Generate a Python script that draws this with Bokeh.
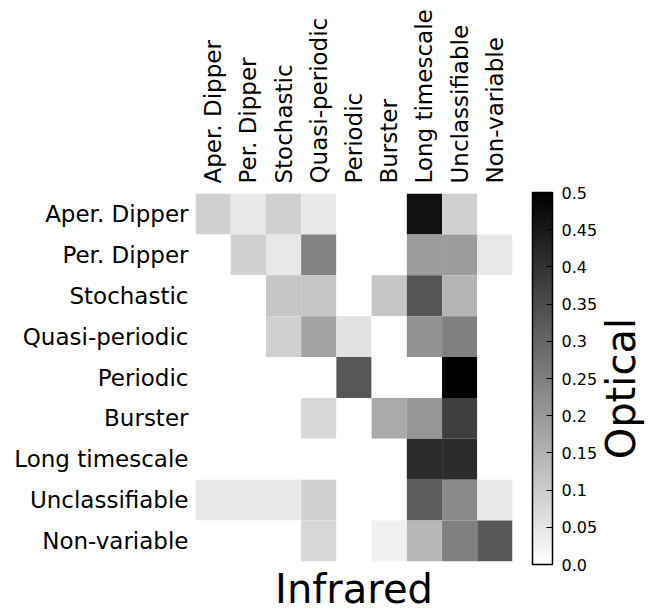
import numpy as np
import pandas as pd
from bokeh.plotting import figure
from bokeh.layouts import row
from bokeh.models import (ColumnDataSource, LinearColorMapper, ColorBar, FixedTicker,
                          CategoricalAxis, CustomJSTickFormatter, Title, Label, Range1d)
from bokeh.transform import transform
from bokeh.palettes import Greys256
from bokeh.embed import file_html
from bokeh.resources import INLINE

# Optical classes (rows)
optical = ["Aper. Dipper", "Per. Dipper", "Stochastic", "Quasi-periodic", "Periodic",
           "Burster", "Long timescale", "Unclassifiable", "Non-variable"]
# Infrared classes (columns)
infrared = ["Aper. Dipper", "Per. Dipper", "Stochastic", "Quasi-periodic", "Periodic",
            "Burster", "Long timescale", "Unclassifiable", "Non-variable"]

# fractions, one row per optical class
row_aper = [0.092, 0.045, 0.092, 0.045, 0.0, 0.0, 0.465, 0.092, 0.0]
row_per = [0.0, 0.092, 0.045, 0.245, 0.0, 0.0, 0.194, 0.194, 0.045]
row_stoch = [0.0, 0.0, 0.112, 0.112, 0.0, 0.112, 0.333, 0.147, 0.0]
row_qp = [0.0, 0.0, 0.092, 0.182, 0.057, 0.0, 0.214, 0.249, 0.0]
row_periodic = [0.0, 0.0, 0.0, 0.0, 0.329, 0.0, 0.0, 0.5, 0.0]
row_burster = [0.0, 0.0, 0.0, 0.080, 0.0, 0.167, 0.206, 0.375, 0.0]
row_long = [0.0, 0.0, 0.0, 0.0, 0.0, 0.0, 0.414, 0.414, 0.0]
row_unclass = [0.045, 0.045, 0.045, 0.092, 0.0, 0.0, 0.320, 0.229, 0.045]
row_nonvar = [0.0, 0.0, 0.0, 0.080, 0.0, 0.029, 0.139, 0.249, 0.327]

cbar_ticks = [0.0, 0.05, 0.1, 0.15, 0.2, 0.25, 0.3, 0.35, 0.4, 0.45, 0.5]
cbar_labels = ["0.0", "0.05", "0.1", "0.15", "0.2", "0.25", "0.3", "0.35", "0.4", "0.45", "0.5"]

matrix = [row_aper, row_per, row_stoch, row_qp, row_periodic, row_burster,
          row_long, row_unclass, row_nonvar]

records = []
for i, o in enumerate(optical):
    for j, ir in enumerate(infrared):
        records.append({"opt": o, "ir": ir, "value": matrix[i][j]})
df = pd.DataFrame(records)
source = ColumnDataSource(df)

FONT = "DejaVu Sans"

p = figure(width=600, height=613, x_range=infrared, y_range=list(reversed(optical)),
           x_axis_location=None, toolbar_location=None, output_backend="svg",
           min_border_left=195, min_border_top=193, min_border_right=88,
           min_border_bottom=48)
p.outline_line_color = None
p.grid.grid_line_color = None
p.background_fill_color = "white"

mapper = LinearColorMapper(palette=list(reversed(Greys256)), low=0.0, high=0.5)
p.rect(x="ir", y="opt", width=1, height=1, source=source,
       fill_color=transform("value", mapper), line_color=None)

# left axis
ya = p.yaxis[0]
ya.axis_line_color = None
ya.major_tick_line_color = None
ya.major_tick_in = 0
ya.major_tick_out = 0
ya.major_label_standoff = 7
ya.major_label_text_font = FONT
ya.major_label_text_font_size = "23px"
ya.major_label_text_color = "black"

# top axis
top = CategoricalAxis()
top.axis_line_color = None
top.major_tick_line_color = None
top.major_tick_in = 0
top.major_tick_out = 0
top.major_label_standoff = 10
top.major_label_orientation = "vertical"
top.major_label_text_font = FONT
top.major_label_text_font_size = "23px"
top.major_label_text_color = "black"
p.add_layout(top, "above")

# "Infrared" title below
p.add_layout(Title(text="Infrared", align="center", text_font=FONT, text_font_size="40px",
                   text_font_style="normal", text_color="black", standoff=4, offset=3),
             "below")

formatter = CustomJSTickFormatter(args=dict(tv=cbar_ticks, tl=cbar_labels), code="""
let best = 0;
for (let k = 0; k < tv.length; k++) {
  if (Math.abs(tv[k] - tick) < Math.abs(tv[best] - tick)) best = k;
}
return tl[best];
""")

cb = ColorBar(color_mapper=mapper, ticker=FixedTicker(ticks=cbar_ticks), formatter=formatter,
              width=20, height=372, location=(20, -3), margin=0, padding=0,
              major_tick_in=6, major_tick_out=0, major_tick_line_color="black",
              bar_line_color="black", bar_line_width=1.5,
              label_standoff=9, major_label_text_font=FONT,
              major_label_text_font_size="16px", major_label_text_color="black",
              background_fill_color=None, border_line_color=None)
p.add_layout(cb, "right")

# narrow companion figure carrying the rotated "Optical" colorbar label
p2 = figure(width=52, height=613, x_range=Range1d(0, 52), y_range=Range1d(0, 613),
            x_axis_location=None, y_axis_location=None, toolbar_location=None,
            output_backend="svg", min_border=0)
p2.outline_line_color = None
p2.grid.grid_line_color = None
p2.add_layout(Label(x=20, y=288, text="Optical", angle=np.pi / 2, text_align="center",
                    text_baseline="alphabetic", text_font=FONT, text_font_size="40px",
                    text_color="black"))

layout = row(p, p2)
open("out.html", "w").write(file_html(layout, INLINE))
